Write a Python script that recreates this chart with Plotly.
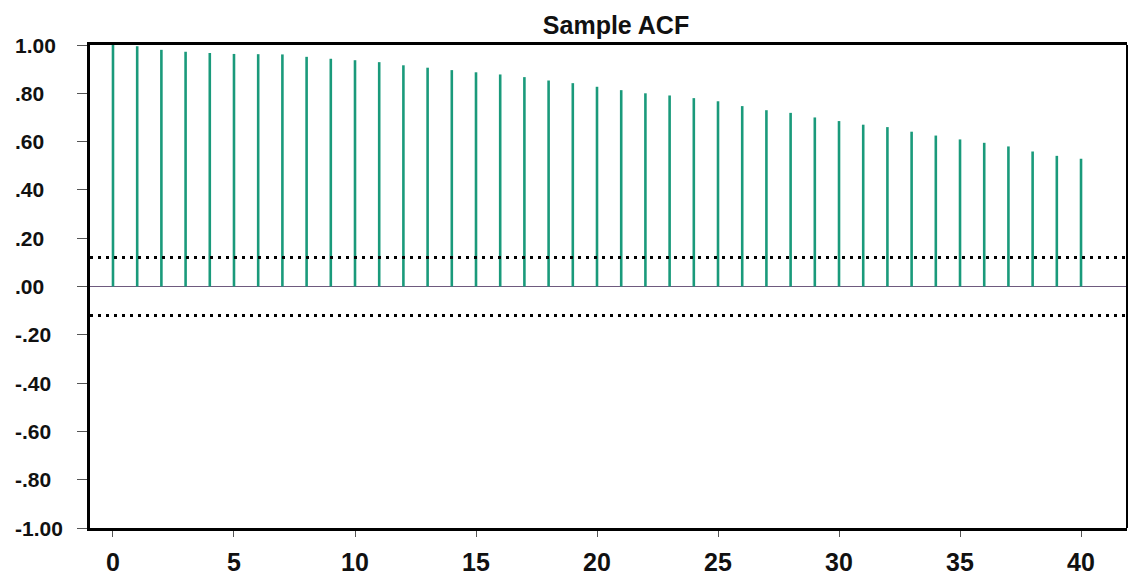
import plotly.graph_objects as go

# Sample autocorrelation by lag
lags = list(range(41))
acf = [1.00, 0.995, 0.98, 0.972, 0.967, 0.963, 0.962, 0.961, 0.951, 0.943,
       0.937, 0.929, 0.916, 0.906, 0.896, 0.887, 0.878, 0.867, 0.853, 0.842,
       0.827, 0.813, 0.800, 0.791, 0.780, 0.767, 0.747, 0.730, 0.719, 0.700,
       0.685, 0.670, 0.660, 0.641, 0.625, 0.609, 0.595, 0.580, 0.559, 0.541,
       0.529]
conf_bound = 0.12

y_ticks = [1.0, 0.8, 0.6, 0.4, 0.2, 0.0, -0.2, -0.4, -0.6, -0.8, -1.0]
y_labels = ["1.00", ".80", ".60", ".40", ".20", ".00", "-.20", "-.40", "-.60", "-.80", "-1.00"]
x_ticks = [0, 5, 10, 15, 20, 25, 30, 35, 40]

W, H = 1129, 583
ML, MR, MT, MB = 90, 2, 45, 55
plot_w = W - ML - MR

# vertical stems from zero to each ACF value
sx, sy = [], []
for lag, v in zip(lags, acf):
    sx += [lag, lag, None]
    sy += [0, v, None]

fig = go.Figure()
fig.add_trace(go.Scatter(x=sx, y=sy, mode="lines",
                         line=dict(color="#1a9a7b", width=2.6),
                         hoverinfo="skip", showlegend=False))

bold = dict(family="Liberation Sans, Arial, sans-serif", weight="bold", color="#111111")

# confidence bounds
for b in (conf_bound, -conf_bound):
    fig.add_shape(type="line", xref="paper", yref="y", x0=0, x1=1, y0=b, y1=b,
                  line=dict(color="#000000", width=3, dash="3px,5px"))

# right border
fig.add_shape(type="line", xref="paper", yref="paper", x0=1, x1=1, y0=0, y1=1,
              line=dict(color="#000000", width=2))

# y tick labels, left aligned
for v, t in zip(y_ticks, y_labels):
    fig.add_annotation(x=(13 - ML) / plot_w, xref="paper", y=v, yref="y",
                       text=t, showarrow=False, xanchor="left", yanchor="middle",
                       font=dict(size=21, **bold))

fig.update_layout(
    width=W, height=H,
    margin=dict(l=ML, r=MR, t=MT, b=MB),
    paper_bgcolor="white", plot_bgcolor="white",
    title=dict(text="Sample ACF", x=616 / W, xanchor="center",
               y=1 - 25 / H, yanchor="middle",
               font=dict(size=25, **bold)),
    xaxis=dict(range=[-0.95, 41.9], tickvals=x_ticks,
               showgrid=False, zeroline=False,
               showline=True, linecolor="#000000", linewidth=3, mirror=True,
               ticks="outside", ticklen=6, tickcolor="#555555", tickwidth=1,
               tickfont=dict(size=25, **bold), ticklabelstandoff=4),
    yaxis=dict(range=[-1.0, 1.0], tickvals=y_ticks, showticklabels=False,
               showgrid=False, zeroline=True, zerolinecolor="#6e5a7e", zerolinewidth=1,
               showline=True, linecolor="#000000", linewidth=3,
               ticks="outside", ticklen=10, tickcolor="#555555", tickwidth=1),
)

fig.write_html("out.html")
